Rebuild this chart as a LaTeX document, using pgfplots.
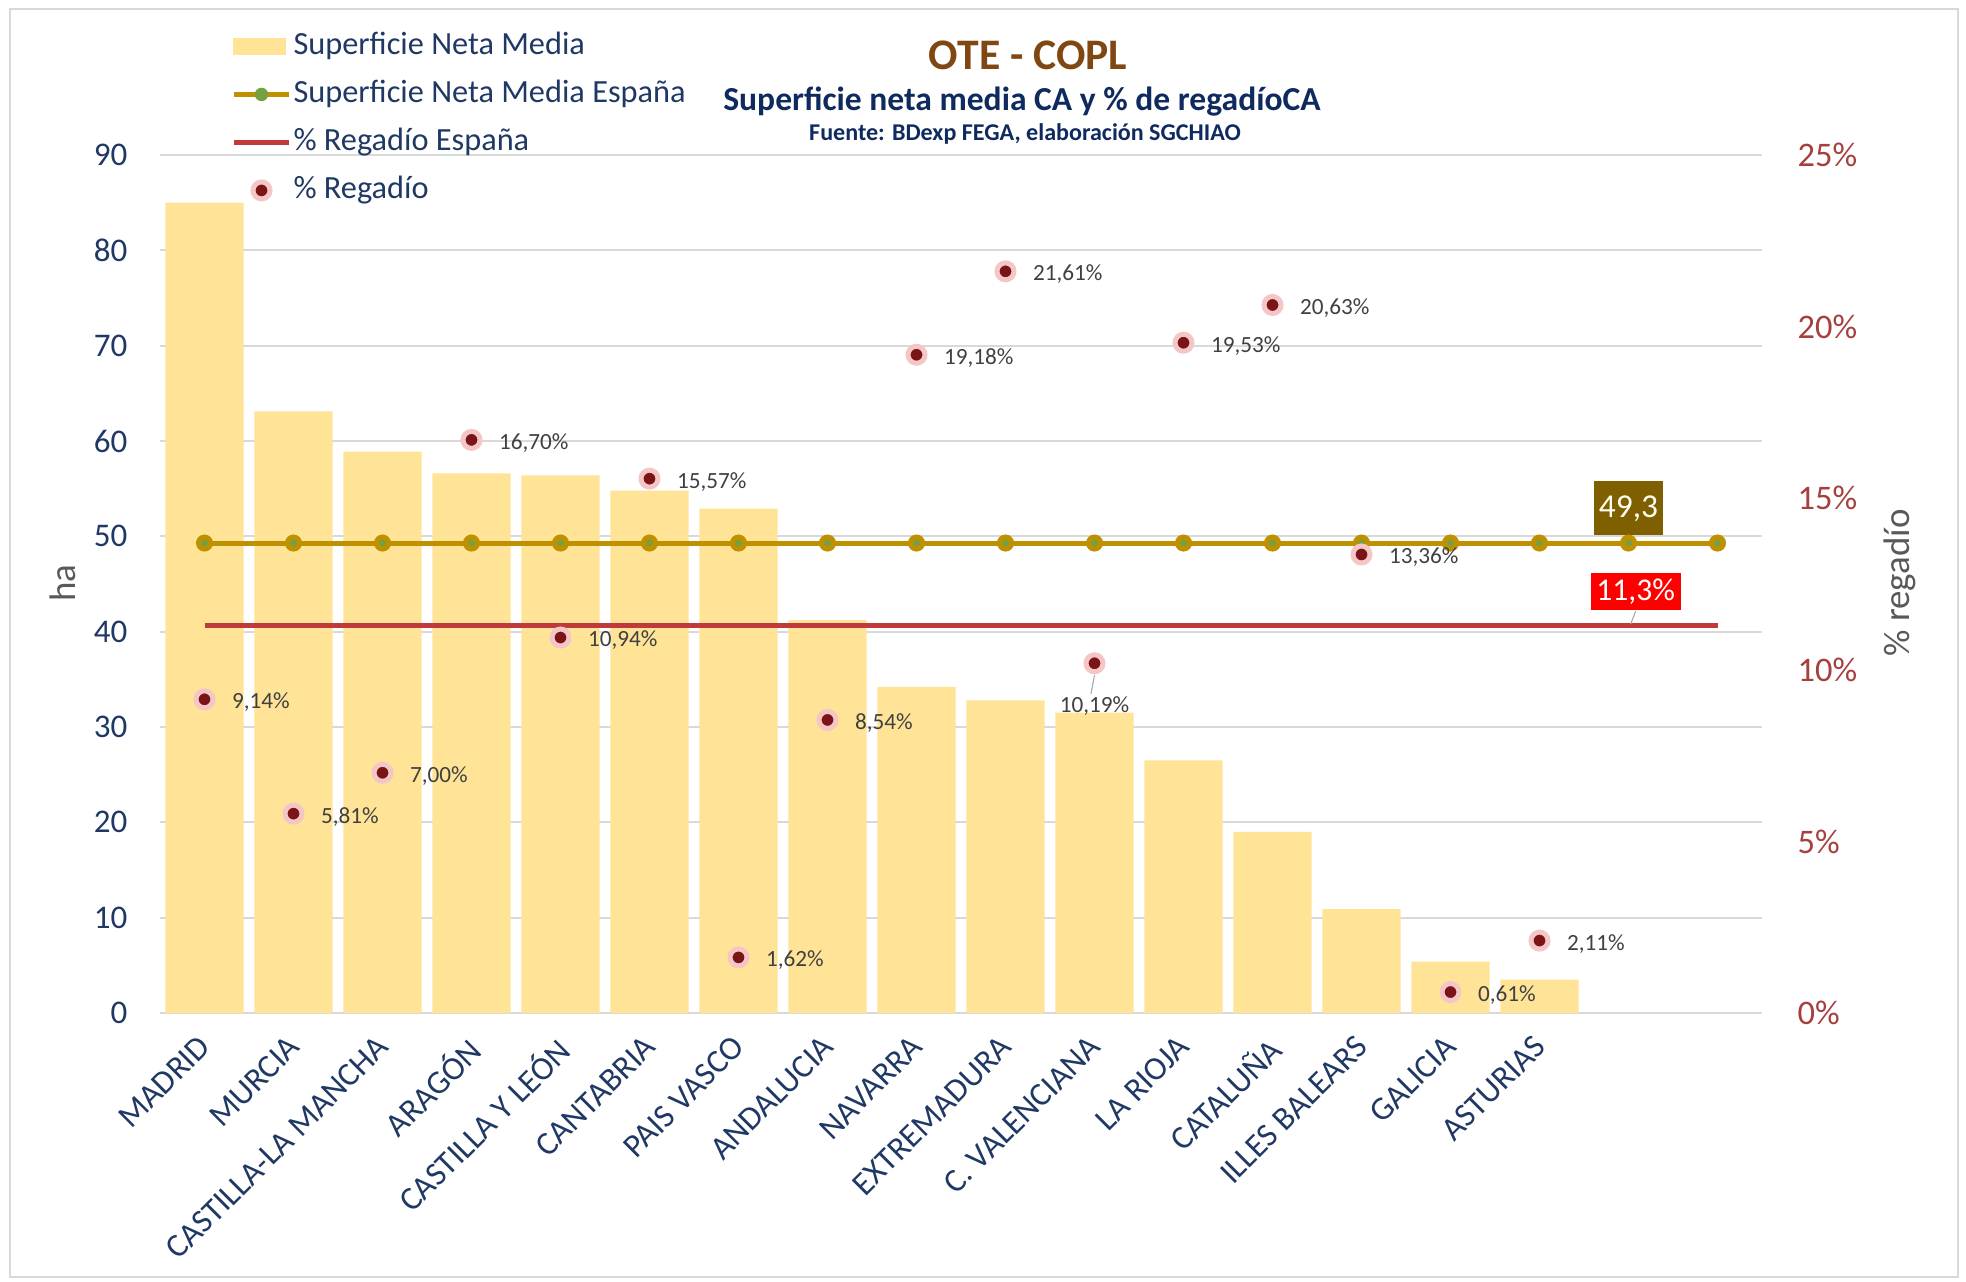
\documentclass[border=0pt]{standalone}
\usepackage{pgfplots}
\pgfplotsset{compat=1.18}
\usepackage{fontspec}
\setmainfont{Carlito}
\definecolor{barcol}{HTML}{FFE397}
\definecolor{avgline}{HTML}{BF9000}
\definecolor{avgdot}{HTML}{76A03F}
\definecolor{redline}{HTML}{C0393B}
\definecolor{dotcol}{HTML}{7B1417}
\definecolor{glow}{HTML}{F5C6C6}
\definecolor{navy}{HTML}{203864}
\definecolor{rtick}{HTML}{A5403E}
\definecolor{titlebrown}{HTML}{7F4712}
\definecolor{subnavy}{HTML}{0F2A5E}
\definecolor{gridc}{HTML}{D9D9D9}
\definecolor{lblgray}{HTML}{404040}
\definecolor{axgray}{HTML}{595959}
\definecolor{boxgold}{HTML}{7F6000}
\definecolor{boxred}{HTML}{FF0000}

\begin{document}
\begin{tikzpicture}
\useasboundingbox (0,0) rectangle (196.6mm,128.1mm);
\draw[gridc, line width=0.4pt] (1.0mm,0.4mm) rectangle (195.8mm,127.2mm);

% ---------------- left axis: bars + Spain average ----------------
\begin{axis}[
  at={(16.0mm,26.8mm)}, anchor=south west,
  scale only axis, width=160.2mm, height=85.8mm,
  xmin=-0.5, xmax=17.5, ymin=0, ymax=90,
  axis line style={draw=none},
  major tick length=0,
  xtick={0,...,15},
  xticklabels={MADRID, MURCIA, CASTILLA-LA MANCHA, ARAGÓN, CASTILLA Y LEÓN, CANTABRIA, PAIS VASCO, ANDALUCIA, NAVARRA, EXTREMADURA, C. VALENCIANA, LA RIOJA, CATALUÑA, ILLES BALEARS, GALICIA, ASTURIAS},
  x tick label style={rotate=45, anchor=north east, font=\fontsize{9.4}{11}\selectfont, text=navy, inner sep=0pt, xshift=-1.93mm, yshift=-0.9mm},
  ytick={0,10,...,90},
  ymajorgrids, grid style={gridc, line width=0.6pt},
  y tick label style={font=\fontsize{9.4}{11}\selectfont, text=navy, anchor=east, inner sep=0pt, xshift=-3.2mm},
  /pgf/number format/assume math mode=true,
  ylabel={ha},
  ylabel style={at={(axis description cs:-0.0605,0.501)}, anchor=center, rotate=0, font=\fontsize{10.5}{12}\selectfont, text=axgray},
]
\addplot[ybar, bar width=0.877, fill=barcol, draw=none] coordinates {
  (0,85.0) (1,63.1) (2,58.9) (3,56.6) (4,56.4) (5,54.8) (6,52.9) (7,41.2)
  (8,34.2) (9,32.8) (10,31.5) (11,26.5) (12,19.0) (13,10.9) (14,5.4) (15,3.5)
};
\addplot[avgline, line width=0.5mm, mark=*, mark size=0.6mm, mark options={fill=avgdot, draw=none}] coordinates {
  (0,49.3) (1,49.3) (2,49.3) (3,49.3) (4,49.3) (5,49.3) (6,49.3) (7,49.3) (8,49.3)
  (9,49.3) (10,49.3) (11,49.3) (12,49.3) (13,49.3) (14,49.3) (15,49.3) (16,49.3) (17,49.3)
};
\node[fill=boxgold, text=white!95!yellow, font=\fontsize{9.5}{11}\selectfont, minimum width=6.9mm, minimum height=5.4mm, inner sep=0pt, anchor=south] at (axis cs:16,49.3) [yshift=0.7mm] {49,3};
\end{axis}

% ---------------- right axis: % regadio ----------------
\begin{axis}[
  at={(16.0mm,26.8mm)}, anchor=south west,
  scale only axis, width=160.2mm, height=85.8mm,
  xmin=-0.5, xmax=17.5, ymin=0, ymax=25,
  axis line style={draw=none},
  major tick length=0,
  xtick=\empty,
  ytick={0,5,...,25},
  yticklabel pos=right,
  yticklabel={\pgfmathprintnumber{\tick}\%},
  y tick label style={font=\fontsize{9.8}{11}\selectfont, text=rtick, anchor=west, inner sep=0pt, xshift=3.5mm},
  /pgf/number format/assume math mode=true,
  ylabel={\% regadío},
  ylabel style={at={(axis description cs:1.086,0.501)}, anchor=center, rotate=0, font=\fontsize{10.5}{12}\selectfont, text=axgray},
  legend cell align=left,
  legend style={at={(axis description cs:0.0442,1.153)}, anchor=north west, draw=none, fill=none,
    font=\fontsize{9.2}{11}\selectfont, text=navy, row sep=0.4mm, inner sep=0pt,
    nodes={inner ysep=0.6mm, inner xsep=0.2mm, text height=2.4mm, text depth=0.8mm}},
]
\addlegendimage{legend image code/.code={\fill[barcol] (0mm,-0.8mm) rectangle (5.1mm,0.8mm);}}
\addlegendentry{Superficie Neta Media}
\addlegendimage{legend image code/.code={\draw[avgline, line width=0.5mm] (0mm,0mm) -- (5.5mm,0mm); \fill[avgdot] (2.75mm,0mm) circle (0.6mm);}}
\addlegendentry{Superficie Neta Media España}
\addlegendimage{legend image code/.code={\draw[redline, line width=0.5mm] (0mm,0mm) -- (5.5mm,0mm);}}
\addlegendentry{\% Regadío España}
\addlegendimage{legend image code/.code={\filldraw[fill=dotcol, draw=glow, line width=0.5mm] (2.75mm,0mm) circle (0.85mm);}}
\addlegendentry{\% Regadío}

\addplot[redline, line width=0.5mm, forget plot] coordinates {(0,11.3) (17,11.3)};

\addplot[only marks, mark=*, mark size=0.85mm, mark options={fill=dotcol, draw=glow, line width=0.5mm},
  nodes near coords, point meta=explicit symbolic,
  every node near coord/.style={anchor=west, xshift=2.5mm, yshift=-0.3mm, font=\fontsize{6.6}{7}\selectfont, text=lblgray, inner sep=0pt},
  forget plot] coordinates {
  (0,9.14) [9,14\%]
  (1,5.81) [5,81\%]
  (2,7.00) [7,00\%]
  (3,16.70) [16,70\%]
  (4,10.94) [10,94\%]
  (5,15.57) [15,57\%]
  (6,1.62) [1,62\%]
  (7,8.54) [8,54\%]
  (8,19.18) [19,18\%]
  (9,21.61) [21,61\%]
  (10,10.19) []
  (11,19.53) [19,53\%]
  (12,20.63) [20,63\%]
  (13,13.36) [13,36\%]
  (14,0.61) [0,61\%]
  (15,2.11) [2,11\%]
};
\addplot[only marks, mark=none, nodes near coords, point meta=explicit symbolic,
  every node near coord/.style={anchor=north, yshift=-3.3mm, font=\fontsize{6.6}{7}\selectfont, text=lblgray, inner sep=0pt},
  forget plot] coordinates {(10,10.19) [10,19\%]};
\draw[gray!70, line width=0.3pt] (axis cs:10,9.84) -- (axis cs:9.96,9.3);

\node[fill=boxred, text=white, font=\fontsize{9}{11}\selectfont, minimum width=9.0mm, minimum height=3.7mm, inner sep=0pt, anchor=south] (rb) at (axis cs:16.08,11.3) [yshift=1.4mm] {11,3\%};
\draw[gray!70, line width=0.3pt] (rb.south) -- ++(-0.5mm,-1.3mm);
\end{axis}

% ---------------- titles ----------------
\node[anchor=base, text=titlebrown, font=\fontsize{12.4}{14}\selectfont\bfseries] at (102.8mm,121.1mm) {OTE - COPL};
\node[anchor=base, text=subnavy, font=\fontsize{9.55}{11}\selectfont\bfseries] at (102.2mm,117.0mm) {Superficie neta media CA y \% de regadíoCA};
\node[anchor=base, text=subnavy, font=\fontsize{6.85}{8}\selectfont\bfseries] at (102.5mm,114.0mm) {Fuente: BDexp FEGA, elaboración SGCHIAO};
\end{tikzpicture}
\end{document}
